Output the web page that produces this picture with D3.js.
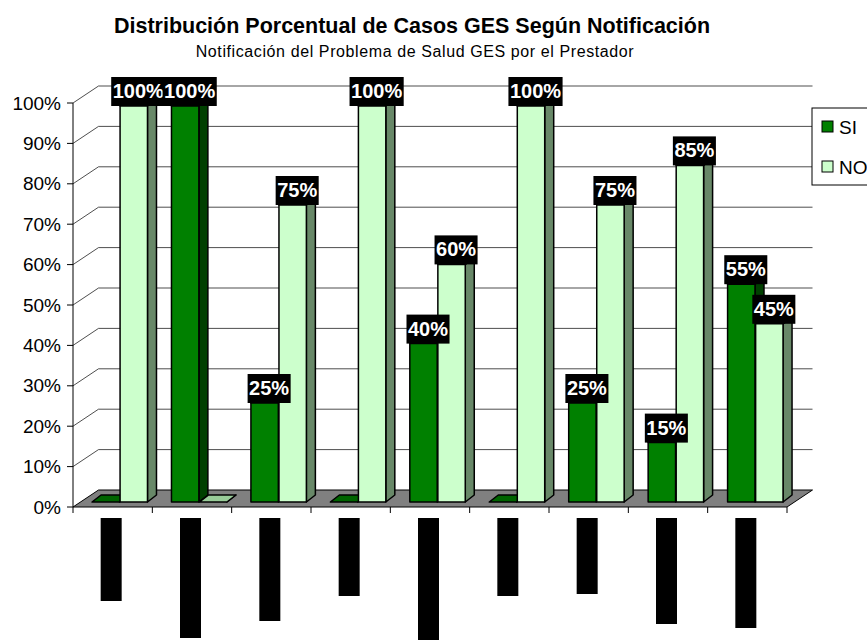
<!DOCTYPE html>
<html>
<head>
<meta charset="utf-8">
<script src="https://cdn.jsdelivr.net/npm/d3@7"></script>
<style>
  body { margin: 0; background: #fff; }
  text { font-family: "Liberation Sans", Arial, sans-serif; }
</style>
</head>
<body>
<div id="graphicContainer"></div>
<script>
// values
var categories = ["1", "2", "3", "4", "5", "6", "7", "8", "9"],
	siValues = [0, 100, 25, 0, 40, 0, 25, 15, 55],
	noValues = [100, 0, 75, 100, 60, 100, 75, 85, 45],
	yTicks = [0, 10, 20, 30, 40, 50, 60, 70, 80, 90, 100],
	// category labels are hidden under black blocks, only their length shows
	labelLength = [83, 120, 103, 78, 125, 78, 76, 106, 110];

var width = 867,
	height = 640,
	depth = {dx: 25.5, dy: -17},   // 3d offset of the back wall
	barDepth = {dx: 9, dy: -7};

var colors = {
	SI: {front: "#008000", side: "#004000", top: "#006400"},
	NO: {front: "#ccffcc", side: "#688868", top: "#99cc99"}
};

var svg = d3.select("#graphicContainer")
	.append("svg")
	.attr("width", width)
	.attr("height", height),
	g = svg.append("g");

var x = d3.scaleBand().domain(categories).range([73, 787]),
	xBar = d3.scaleBand().domain(categories).range([74, 789]),
	y = d3.scaleLinear().domain([0, 100]).range([507, 103]),
	yBar = d3.scaleLinear().domain([0, 100]).range([502, 106]),
	labelScale = d3.scaleLinear().domain([0, 100]).range([0, 100]);

// titles
svg.append("text")
	.attr("x", 412).attr("y", 33)
	.attr("text-anchor", "middle")
	.attr("font-size", "21.5px").attr("font-weight", "bold")
	.text("Distribución Porcentual de Casos GES Según Notificación");

svg.append("text")
	.attr("x", 415).attr("y", 57)
	.attr("text-anchor", "middle")
	.attr("font-size", "16px")
	.attr("letter-spacing", "0.6px")
	.text("Notificación del Problema de Salud GES por el Prestador");

// floor
var x0 = x.range()[0], x1 = x.range()[1];
g.append("path")
	.attr("d", "M" + x0 + "," + y(0) + "L" + x1 + "," + y(0) +
		"L" + (x1 + depth.dx) + "," + (y(0) + depth.dy) +
		"L" + (x0 + depth.dx) + "," + (y(0) + depth.dy) + "Z")
	.attr("fill", "#808080")
	.attr("stroke", "#000").attr("stroke-width", 1);

// gridlines on the back wall and the side wall
var grid = g.selectAll(".grid")
	.data(yTicks.filter(function(d){ return d > 0 }))
	.enter().append("g").attr("class", "grid");

grid.append("path")
	.attr("d", function(d){
		return "M" + x0 + "," + y(d) + "L" + (x0 + depth.dx) + "," + (y(d) + depth.dy) +
			"L" + (x1 + depth.dx) + "," + (y(d) + depth.dy)
	})
	.attr("fill", "none")
	.attr("stroke", "#222")
	.attr("stroke-width", 1)
	.attr("stroke-opacity", 0.8);

// y axis
g.append("line")
	.attr("x1", x0).attr("x2", x0)
	.attr("y1", y(0)).attr("y2", y(100))
	.attr("stroke", "#000");

g.selectAll(".ytick")
	.data(yTicks)
	.enter().append("line")
	.attr("x1", x0 - 6).attr("x2", x0)
	.attr("y1", function(d){ return y(d) }).attr("y2", function(d){ return y(d) })
	.attr("stroke", "#000");

g.selectAll(".ylabel")
	.data(yTicks)
	.enter().append("text")
	.attr("x", x0 - 12)
	.attr("y", function(d){ return y(d) })
	.attr("dy", ".35em")
	.attr("text-anchor", "end")
	.attr("font-size", "19px")
	.text(function(d){ return d + "%" });

// x axis ticks
var xEdges = categories.map(function(c){ return x(c) }).concat([x1]);
g.selectAll(".xtick")
	.data(xEdges)
	.enter().append("line")
	.attr("x1", function(d){ return d }).attr("x2", function(d){ return d })
	.attr("y1", y(0)).attr("y2", y(0) + 6)
	.attr("stroke", "#000");

// bars
var series = [
	{key: "SI", values: siValues, offset: 0.227},
	{key: "NO", values: noValues, offset: 0.58}
];
var barW = xBar.bandwidth() * 0.345;

function barPaths(cx, v, c){
	var left = cx, right = cx + barW,
		top = yBar(v), bottom = yBar(0),
		dx = barDepth.dx, dy = barDepth.dy,
		gg = g.append("g").attr("stroke", "#000").attr("stroke-width", 1.5).attr("stroke-linejoin", "round");
	gg.append("path") // side
		.attr("d", "M" + right + "," + bottom + "L" + (right + dx) + "," + (bottom + dy) +
			"L" + (right + dx) + "," + (top + dy) + "L" + right + "," + top + "Z")
		.attr("fill", c.side);
	gg.append("path") // top
		.attr("d", "M" + left + "," + top + "L" + right + "," + top +
			"L" + (right + dx) + "," + (top + dy) + "L" + (left + dx) + "," + (top + dy) + "Z")
		.attr("fill", c.top);
	if (v > 0) {
		gg.append("rect")
			.attr("x", left).attr("y", top)
			.attr("width", barW).attr("height", bottom - top)
			.attr("fill", c.front);
	}
}

categories.forEach(function(cat, i){
	series.forEach(function(s){
		var cx = xBar(cat) + xBar.bandwidth() * s.offset;
		barPaths(cx, s.values[i], colors[s.key]);
	})
})

// value labels
var labels = [];
categories.forEach(function(cat, i){
	series.forEach(function(s){
		if (s.values[i] > 0) labels.push({cat: cat, v: s.values[i], offset: s.offset});
	})
})

var lab = g.selectAll(".valueLabel")
	.data(labels)
	.enter().append("g").attr("class", "valueLabel");

lab.append("rect").attr("fill", "#000");
lab.append("text")
	.attr("fill", "#fff")
	.attr("font-size", "20px")
	.attr("font-weight", "bold")
	.attr("text-anchor", "middle")
	.attr("x", function(d){ return xBar(d.cat) + xBar.bandwidth() * d.offset + barW / 2 + barDepth.dx / 2 })
	.attr("y", function(d){ return yBar(d.v) - 8 })
	.text(function(d){ return d.v + "%" });

lab.each(function(){
	var t = d3.select(this).select("text"),
		w = t.node().getComputedTextLength() + 3,
		d = t.datum(),
		cx = +t.attr("x");
	d3.select(this).select("rect")
		.attr("x", cx - w / 2).attr("y", yBar(d.v) - 29)
		.attr("width", w).attr("height", 29);
})

// hidden category labels
g.selectAll(".catLabel")
	.data(categories)
	.enter().append("rect")
	.attr("class", "catLabel")
	.attr("x", function(d){ return x(d) + x.bandwidth() / 2 - 12 })
	.attr("y", 518)
	.attr("width", 21)
	.attr("height", function(d, i){ return labelScale(labelLength[i]) })
	.attr("fill", "#000");

// legend
var legend = svg.append("g").attr("transform", "translate(812,108)");
legend.append("rect")
	.attr("width", 80).attr("height", 77)
	.attr("fill", "#fff").attr("stroke", "#000");
legend.selectAll(".item")
	.data(series)
	.enter().append("g")
	.attr("transform", function(d, i){ return "translate(10," + (19 + i * 40) + ")" })
	.each(function(d){
		d3.select(this).append("rect")
			.attr("x", 0).attr("y", -6).attr("width", 11).attr("height", 11)
			.attr("fill", colors[d.key].front).attr("stroke", "#000");
		d3.select(this).append("text")
			.attr("x", 17).attr("dy", ".35em")
			.attr("font-size", "19px")
			.text(d.key);
	});
</script>
</body>
</html>
